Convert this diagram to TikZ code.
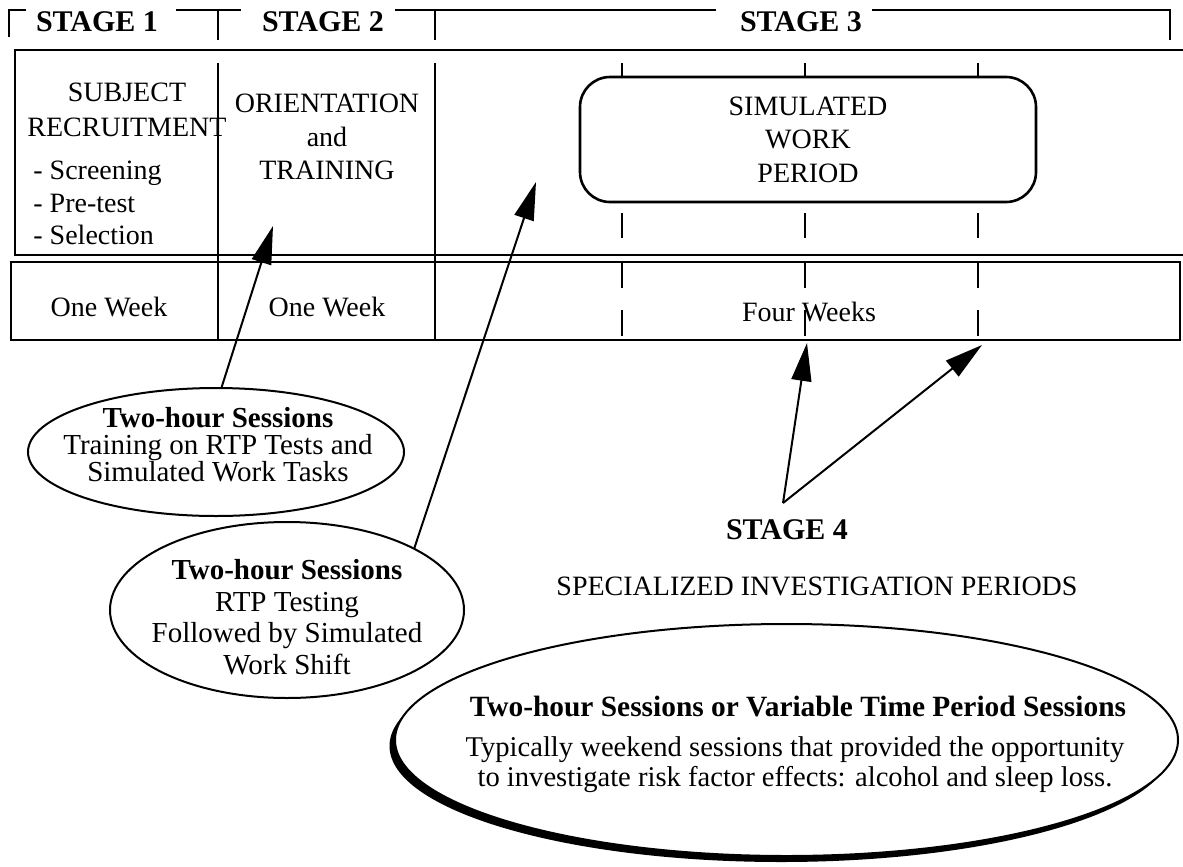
\documentclass[tikz,border=0pt]{standalone}
\usepackage{fontspec}
\setmainfont{Liberation Serif}
\usetikzlibrary{arrows.meta,shapes.geometric}
\begin{document}
\begin{tikzpicture}[x=0.5pt,y=-0.5pt,
  tbl/.style={line width=1.3pt},
  dsh/.style={line width=1.2pt},
  conn/.style={line width=1pt,-{Triangle[length=19pt,width=10pt]}},
  txt/.style={inner sep=0pt,align=center,font=\fontsize{14}{17}\selectfont},
  hdr/.style={inner sep=0pt,font=\fontsize{15}{17}\selectfont\bfseries},
  oval/.style={ellipse,draw,line width=1pt,inner sep=0pt}]
\useasboundingbox (0,0) rectangle (1183,867);

% header bracket
\node[hdr] (s1) at (97,22) {STAGE 1};
\node[hdr] (s2) at (323,22) {STAGE 2};
\node[hdr] (s3) at (801,22) {STAGE 3};
\draw[tbl] (9,37) -- (9,10) -- (26,10);
\draw[tbl] (176,10) -- (241,10);
\draw[tbl] (218,10) -- (218,40);
\draw[tbl] (395,10) -- (716,10);
\draw[tbl] (435,10) -- (435,40);
\draw[tbl] (872,10) -- (1170,10) -- (1170,40);

% table
\draw[tbl] (1183,50) -- (15,50) -- (15,255) -- (1183,255);
\draw[tbl] (11,262) rectangle (1180,340);
\draw[tbl] (218,63) -- (218,340);
\draw[tbl] (435,63) -- (435,340);

% simulated work period
\node[draw,line width=1.3pt,rounded corners=15pt,minimum width=228pt,minimum height=62.5pt,
      inner sep=0pt,align=center,font=\fontsize{14}{16.75}\selectfont] (swp) at (808,139.5)
      {SIMULATED\\WORK\\PERIOD};
\foreach \xx in {622,805,978}{
  \draw[dsh] (\xx,63) -- (\xx,77);
  \draw[dsh] (\xx,213) -- (\xx,238);
  \draw[dsh] (\xx,263) -- (\xx,288);
  \draw[dsh] (\xx,310) -- (\xx,336);
}

% row texts
\node[txt,font=\fontsize{14}{17.5}\selectfont] (subj) at (127,110) {SUBJECT\\RECRUITMENT};
\node[txt,align=left,anchor=west,font=\fontsize{14}{16.25}\selectfont] (bul) at (33,203) {- Screening\\- Pre-test\\- Selection};
\node[txt,font=\fontsize{14}{16.75}\selectfont] (orient) at (327,137) {ORIENTATION\\and\\TRAINING};
\node[txt] (w1) at (109,307) {One Week};
\node[txt] (w2) at (327,307) {One Week};
\node[txt] (w4) at (809,312) {Four Weeks};

% ellipse 1
\node[oval,minimum width=188pt,minimum height=64pt] (e1) at (216,452) {};
\node[txt,font=\fontsize{14.5}{13.5}\selectfont] (e1t) at (218,445)
  {\textbf{Two-hour Sessions}\\Training on RTP Tests and\\Simulated Work Tasks};

% ellipse 2
\node[oval,minimum width=177pt,minimum height=88pt] (e2) at (287,610) {};
\node[txt,font=\fontsize{14.5}{15.8}\selectfont] (e2t) at (287,617)
  {\textbf{Two-hour Sessions}\\RTP Testing\\Followed by Simulated\\Work Shift};

% big ellipse with heavy lower-left edge
\node[ellipse,fill=black,inner sep=0pt,minimum width=391.5pt,minimum height=116pt] (e3s) at (781,746) {};
\node[oval,fill=white,minimum width=391.5pt,minimum height=116pt] (e3) at (786.5,740) {};
\node[hdr,font=\fontsize{14.7}{17}\selectfont\bfseries] (e3h) at (798,707) {Two-hour Sessions or Variable Time Period Sessions};
\node[txt,font=\fontsize{14.3}{15}\selectfont] (e3t) at (795,765)
  {Typically weekend sessions that provided the opportunity\\to investigate risk factor effects: alcohol and sleep loss.};

% stage 4
\node[hdr] (s4) at (787,530) {STAGE 4};
\node[txt] (spec) at (817,586) {SPECIALIZED INVESTIGATION PERIODS};
\coordinate (o4) at (783,503);
\coordinate (t1) at (807,343);
\coordinate (t2) at (982,345);
\coordinate (a1) at (273,226);
\coordinate (a2) at (536,182);

% connectors
\draw[conn] (e1.85) -- (a1);
\draw[conn] (e2.26) -- (a2);
\draw[conn] (o4) -- (t1);
\draw[conn] (o4) -- (t2);
\end{tikzpicture}
\end{document}
